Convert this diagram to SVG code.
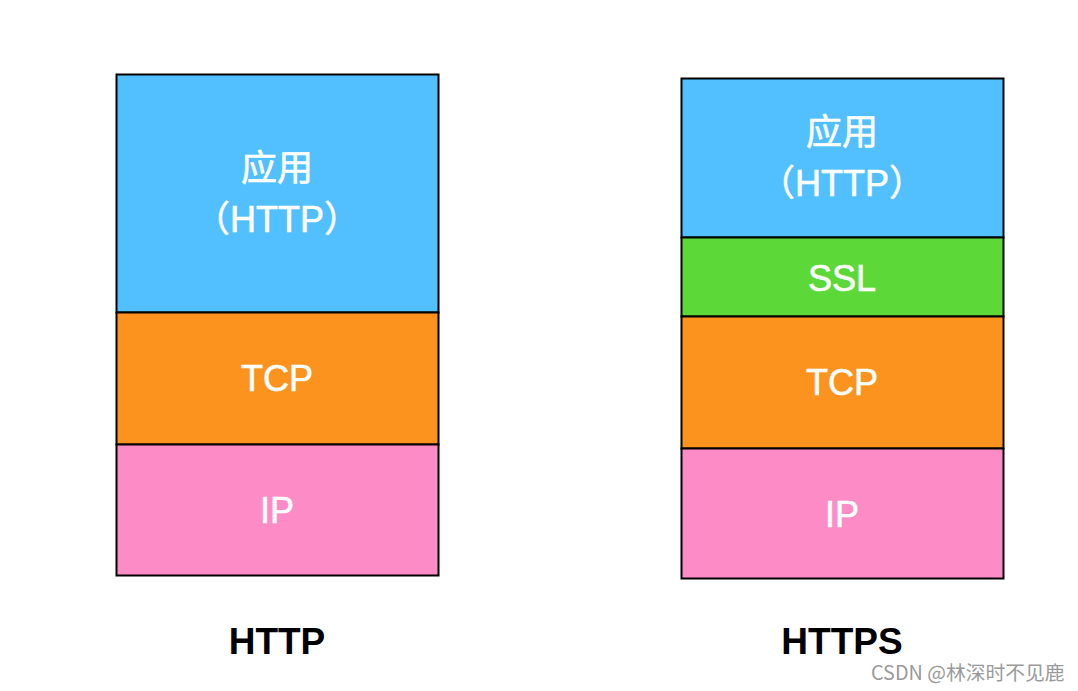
<svg xmlns="http://www.w3.org/2000/svg" width="1078" height="691" viewBox="0 0 1078 691">
<style>
.box{stroke:#000;stroke-width:2}
.app{fill:#52c0fe}.ssl{fill:#5cd939}.tcp{fill:#fb931e}.ip{fill:#fd8bc6}
.t{font-family:"Liberation Sans","Noto Sans CJK SC",sans-serif;font-size:36px;fill:#fff;stroke:#fff;stroke-width:0.6;text-anchor:middle;dominant-baseline:central}
.cap{font-family:"Liberation Sans","Noto Sans CJK SC",sans-serif;font-size:37px;font-weight:bold;fill:#000;text-anchor:middle;dominant-baseline:central}
.wm{font-family:"Noto Sans CJK SC",sans-serif;font-size:19.8px;fill:#9a9a9a}
</style>
<rect width="1078" height="691" fill="#fff"/>
<g id="http-stack">
<g id="http-app"><rect class="box app" x="116.5" y="74.5" width="322" height="238"/><text class="t" x="277" y="168">应用</text><text class="t" x="277" y="219">（HTTP）</text></g>
<g id="http-tcp"><rect class="box tcp" x="116.5" y="312.5" width="322" height="132"/><text class="t" x="277" y="378">TCP</text></g>
<g id="http-ip"><rect class="box ip" x="116.5" y="444.5" width="322" height="131"/><text class="t" x="277" y="510">IP</text></g>
<text class="cap" x="277" y="641">HTTP</text>
</g>
<g id="https-stack">
<g id="https-app"><rect class="box app" x="681.5" y="78.5" width="322" height="159"/><text class="t" x="842" y="132">应用</text><text class="t" x="842" y="183">（HTTP）</text></g>
<g id="https-ssl"><rect class="box ssl" x="681.5" y="237.5" width="322" height="79"/><text class="t" x="842" y="278">SSL</text></g>
<g id="https-tcp"><rect class="box tcp" x="681.5" y="316.5" width="322" height="132"/><text class="t" x="842" y="382">TCP</text></g>
<g id="https-ip"><rect class="box ip" x="681.5" y="448.5" width="322" height="130"/><text class="t" x="842" y="514">IP</text></g>
<text class="cap" x="842" y="641">HTTPS</text>
</g>
<g id="connectors"/>
<text class="wm" x="871" y="680">CSDN @林深时不见鹿</text>
</svg>
